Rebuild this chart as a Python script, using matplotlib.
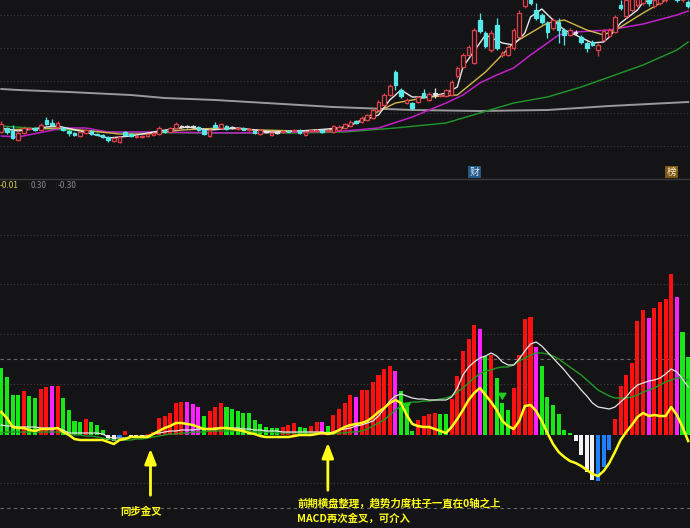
import matplotlib.pyplot as plt
from matplotlib.lines import Line2D
from matplotlib.patches import Rectangle

BG = "#141416"

# ---- upper panel: daily candles (price level, arbitrary units) ----
opens = [46, 50, 47, 38, 45, 49, 50, 48, 58, 55, 51, 50, 47, 45, 42, 45, 47, 44, 43, 41,
         37, 36, 46, 44, 41, 41, 42, 43, 44, 48, 46, 50, 51, 51, 51, 51, 48, 42, 53, 50,
         52, 50, 49, 50, 48, 47, 44, 46, 43, 45, 46, 47, 47, 48, 43, 47, 47, 48, 47, 46,
         48, 50, 52, 57, 56, 58, 60, 68, 73, 83, 106, 88, 75, 75, 76, 85, 78, 84, 82, 82,
         83, 102, 111, 123, 115, 158, 145, 128, 153, 123, 123, 130, 141, 172, 180, 168, 163, 155, 150, 156,
         148, 143, 145, 141, 135, 136, 128, 138, 142, 146, 173, 162, 168, 173, 175, 178, 172, 175, 178, 181,
         183, 178, 176]
closes = [54, 46, 40, 45, 50, 50, 48, 53, 54, 53, 55, 48, 45, 43, 46, 48, 44, 43.5, 41, 38,
          40, 41, 43, 42, 42, 42, 44, 45, 50, 46, 50, 54, 51, 51, 51, 48, 44, 48, 51, 54,
          49, 50, 50, 48.5, 49, 45, 48, 46, 45, 45, 47, 46.5, 48, 45, 46, 48, 48, 46, 48, 52,
          51, 54, 56, 55, 60, 63, 68, 76, 83, 92, 93, 82, 78, 70, 81, 81, 84, 84, 83, 88,
          96, 110, 123, 131, 148, 147, 132, 145, 130, 125, 131, 148, 165, 180, 175, 160, 156, 146, 158, 148,
          143, 148, 145, 136, 130, 133, 133, 147, 148, 161, 170, 178, 180, 183, 183, 175, 178, 181, 184, 186,
          178, 183, 172]
highs = [57, 51, 53, 47, 52, 51, 51, 55, 61, 59, 57, 51, 48, 46, 47, 49, 48, 45, 44, 42,
         41, 42, 47, 45, 43, 43, 45, 46, 52, 49, 51, 56, 53, 53, 53, 52, 49, 49, 56, 55,
         53, 52, 51, 51, 50, 48, 49, 47, 46, 46, 48, 48, 49, 49, 47, 49, 49, 49, 49, 53,
         53, 55, 58, 58, 62, 64, 70, 78, 85, 94, 108, 90, 80, 76, 82, 89, 86, 90, 84, 89,
         98, 112, 125, 133, 150, 165, 147, 148, 160, 127, 133, 150, 168, 184, 182, 175, 165, 157, 160, 160,
         150, 150, 148, 143, 137, 138, 135, 149, 150, 163, 178, 182, 186, 188, 186, 180, 182, 184, 188, 190,
         186, 187, 178]
lows = [45, 44, 39, 37, 44, 48, 47, 47, 53, 52, 50, 47, 42, 42, 41, 44, 43, 43, 40, 36,
        36, 35, 42, 41, 40, 40, 41, 42, 43, 45, 45, 49, 50, 50, 50, 47, 43, 41, 50, 49,
        48, 49, 48, 48, 47, 44, 43, 45, 42, 44, 45, 46, 46, 44, 42, 46, 46, 45, 46, 45,
        47, 49, 51, 54, 55, 57, 59, 67, 72, 82, 88, 80, 74, 68, 75, 80, 77, 80, 81, 81,
        82, 100, 110, 122, 114, 145, 130, 126, 128, 121, 122, 128, 140, 170, 173, 158, 154, 140, 148, 135,
        133, 142, 143, 134, 126, 132, 122, 137, 141, 145, 168, 160, 166, 171, 173, 172, 170, 173, 176, 179,
        176, 176, 170]

# moving averages read at a few days each (day index, level)
ma5_days = [0, 3, 8, 10, 14, 19, 23, 28, 33, 37, 42, 48, 53, 58, 61, 67, 69, 71, 73, 76, 79, 81,
            82, 85, 86, 89, 91, 93, 94, 96, 98, 100, 102, 105, 107, 108, 110, 113, 114, 117, 122]
ma5_vals = [50, 47, 51, 52, 47, 40, 42, 47, 51, 48, 50, 46, 47, 49, 51, 63, 78, 88, 81, 81, 85, 91,
            111, 135, 143, 135, 133, 145, 161, 169, 158, 148, 143, 135, 136, 141, 155, 168, 176, 180, 181]
ma10_days = [0, 5, 10, 16, 21, 26, 32, 39, 46, 53, 58, 61, 70, 76, 81, 86, 91, 97, 100, 104, 107,
             110, 114, 118, 122]
ma10_vals = [48, 49, 50, 47, 44, 44, 48, 50, 48, 47, 48, 50, 75, 81, 83, 106, 135, 155, 158, 148, 143,
             151, 165, 178, 186]
ma30_days = [0, 3, 11, 15, 19, 26, 41, 53, 61, 67, 73, 76, 79, 82, 85, 88, 91, 94, 97, 99, 102, 108,
             114, 120, 122]
ma30_vals = [42, 41, 50, 50, 46, 46, 45, 46, 47, 50, 61, 68, 75, 83, 95, 103, 110, 123, 135, 143, 146,
             148, 154, 163, 167]
ma60_days = [0, 5, 18, 35, 53, 61, 70, 79, 85, 91, 97, 103, 108, 114, 120, 122]
ma60_vals = [52, 50, 46, 45, 45, 46, 50, 55, 65, 75, 81, 91, 101, 113, 128, 136]
ma250_days = [0, 3, 12, 23, 29, 38, 47, 59, 73, 85, 97, 108, 122]
ma250_vals = [89, 88, 86, 83, 80, 78, 75, 71, 68, 67, 68, 72, 76]

# ---- lower panel: trend-strength bars and lines ----
hist = [67, 58, 40, 40, 44, 39, 37, 46, 48, 49,
        49, 37, 25, 14, 13, 16, 13, 10, 5, -5,
        -6, -2, 4, -1, -3, -3, 1, 3, 17, 19,
        22, 32, 33, 33, 31, 28, 19, 24, 28, 32,
        28, 26, 24, 22, 22, 15, 11, 8, 7, 7,
        8, 10, 12, 8, 7, 9, 13, 13, 9, 20,
        26, 32, 40, 38, 45, 45, 53, 60, 66, 69,
        64, 44, 28, 4, 15, 19, 21, 22, 21, 21,
        36, 59, 84, 96, 110, 106, 79, 80, 57, 32,
        25, 47, 80, 116, 118, 88, 69, 38, 30, 21,
        5, 2, -6, -20, -37, -45, -46, -32, -15, 16,
        49, 60, 72, 114, 125, 117, 127, 133, 136, 161,
        138, 103, 78]
hist_kind = list("ggggr" "ggrr" "mr" "ggggr" "ggg" "wwbr" "www" "rrrrrrr" "mmm" "grrr"
                 "gggggggggg" "rrrgg" "rrmg" "rrrrm" "rrrrrrm" "ggg" "rrrrgg" "rrrrrmgr"
                 "ggg" "rrrrm" "gggggg" "wwwwbbb" "rrrrrrm" "rrrrmgg")
trend = [23, 17, 8, 7, 7, 5, 4, 6, 6, 6,
         7, 3, 0, -4, -5, -5, -5, -5, -5, -7,
         -9, -5, -4, -2, -2, -2, -2, 1, 4, 7,
         9, 12, 12, 11, 10, 8, 6, 6, 6, 7,
         7, 6, 5, 4, 2, 1, -1, -2, -2, -2,
         -2, -2, -1, 0, 0, 0, 1, 2, 1, 2,
         5, 8, 10, 11, 12, 14, 18, 23, 27, 32,
         35, 32, 20, 11, 9, 8, 8, 6, 4, 2,
         8, 16, 25, 35, 42, 47, 40, 33, 25, 14,
         9, 6, 14, 29, 30, 24, 14, 2, -9, -17,
         -22, -26, -28, -31, -35, -39, -41, -36, -28, -17,
         -5, 3, 10, 18, 22, 19, 20, 19, 19, 28,
         20, 8, -6]
dif = [10, 9, 9, 8, 8, 8, 8, 7, 7, 7,
       7, 5, 2, 2, 2, 2, 2, 2, 1, -2,
       -3, -3, -3, -2, -2, -1, -1, 1, 2, 3,
       4, 4, 5, 5, 5, 6, 6, 6, 7, 7,
       7, 7, 7, 6, 6, 5, 5, 4, 4, 4,
       3, 3, 3, 3, 3, 3, 3, 3, 2, 3,
       5, 6, 7, 9, 10, 12, 14, 19, 26, 34,
       39, 41, 39, 37, 36, 36, 35, 35, 35, 35,
       38, 47, 60, 68, 73, 77, 79, 82, 79, 73,
       70, 70, 76, 84, 91, 93, 89, 83, 77, 71,
       65, 58, 52, 45, 39, 32, 28, 27, 26, 28,
       33, 38, 45, 50, 52, 54, 55, 57, 61, 66,
       63, 56, 48]
dea = [2, 3, 3, 3, 3, 3, 3, 3, 3, 3,
       3, 2, 1, 0, 0, -1, -1, -2, -3, -4,
       -5, -5, -5, -5, -4, -4, -3, -2, -1, 0,
       1, 1, 2, 2, 3, 3, 3, 4, 4, 4,
       4, 4, 4, 4, 4, 3, 3, 3, 3, 2,
       2, 2, 2, 2, 2, 2, 2, 2, 1, 1,
       2, 2, 3, 3, 4, 6, 9, 12, 15, 20,
       25, 29, 32, 33, 33, 34, 34, 35, 36, 37,
       39, 43, 47, 52, 57, 61, 64, 65, 67, 68,
       68, 70, 74, 77, 80, 82, 82, 81, 79, 76,
       72, 68, 64, 60, 55, 50, 45, 42, 39, 37,
       37, 37, 38, 40, 43, 45, 47, 50, 53, 55,
       57, 57, 55]

KIND_COLORS = {"r": "#ff1010", "m": "#ff20ff", "g": "#18e818", "w": "#f2f2f2", "b": "#1e80ff"}
YELLOW = "#ffff1a"

plt.rcParams["font.family"] = ["Noto Sans CJK SC", "DejaVu Sans"]

fig = plt.figure(figsize=(6.9, 5.28), dpi=100, facecolor=BG)
ax_top = fig.add_axes([0, 350 / 528, 1, 178 / 528], facecolor=BG)
ax_bot = fig.add_axes([0, 0, 1, 348 / 528], facecolor=BG)
days = range(len(hist))
for ax in (ax_top, ax_bot):
    ax.set_xlim(-0.23, 122.33)
    ax.axis("off")
ax_top.set_ylim(0, 178)
ax_bot.set_ylim(-93, 255)

# --- upper panel ---
for lvl in (163, 130, 97, 65, 32):
    ax_top.axhline(lvl, color="#3c3c3c", lw=0.8, ls=(0, (1, 2)))
ax_top.plot(ma250_days, ma250_vals, color="#9a9a9a", lw=1.4)
ax_top.plot(ma60_days, ma60_vals, color="#1f9a2a", lw=1)
ax_top.plot(ma30_days, ma30_vals, color="#c020c8", lw=1.1)
ax_top.plot(ma10_days, ma10_vals, color="#d2b84a", lw=1)
ax_top.plot(ma5_days, ma5_vals, color="#e8e8e8", lw=1)
for d, o, c, h, l in zip(days, opens, closes, highs, lows):
    if c > o:
        col, face = "#e0404c", BG
    elif c < o:
        col, face = "#55e8e8", "#55e8e8"
    else:
        col, face = "#e0e0e0", "#e0e0e0"
    ax_top.vlines(d, l, h, color=col, lw=0.9, zorder=3)
    ax_top.add_patch(Rectangle((d - 0.32, min(o, c)), 0.64, max(abs(c - o), 0.6),
                               facecolor=face, edgecolor=col, lw=0.9, zorder=4))
ax_top.text(84, 6, "财", color="#d8e8ff", fontsize=7, ha="center", va="center",
            bbox=dict(boxstyle="square,pad=0.15", fc="#245a88", ec="none"))
ax_top.text(119, 6, "榜", color="#ffeec8", fontsize=7, ha="center", va="center",
            bbox=dict(boxstyle="square,pad=0.15", fc="#7a5818", ec="none"))

fig.add_artist(Line2D([0, 1], [349 / 528, 349 / 528], color="#3a3a3a", lw=1))

# --- lower panel ---
for lvl in (200, 151, 101, 51, -48):
    ax_bot.axhline(lvl, color="#3e3e3e", lw=0.8, ls=(0, (1, 2)))
for lvl in (76, -73):
    ax_bot.axhline(lvl, color="#6a6a6a", lw=0.8, ls=(0, (3, 3)))

ax_bot.bar(days, hist, width=0.72, color=[KIND_COLORS[k] for k in hist_kind], zorder=2)
ax_bot.plot(days, dea, color="#1f9a1f", lw=1, zorder=3)
ax_bot.plot(days, dif, color="#e6e6e6", lw=0.9, zorder=3)
ax_bot.plot(days, trend, color=YELLOW, lw=1.8, zorder=4)

for d, tip, tail in ((72, 22, 32), (89, 32, 42)):
    ax_bot.annotate("", xy=(d, tip), xytext=(d, tail),
                    arrowprops=dict(arrowstyle="-|>,head_width=0.25,head_length=0.4",
                                    color="#20d020", lw=1), zorder=5)

arrow_kw = dict(arrowstyle="-|>,head_width=0.35,head_length=0.9", color=YELLOW, lw=2)
ax_bot.annotate("", xy=(26.5, -11), xytext=(26.5, -63), arrowprops=arrow_kw, zorder=6)
ax_bot.annotate("", xy=(58, -5), xytext=(58, -58), arrowprops=arrow_kw, zorder=6)
ax_bot.text(24.8, -77, "同步金叉", color=YELLOW, fontsize=7.5, fontweight="bold",
            ha="center", va="center")
ax_bot.text(52.6, -68, "前期横盘整理，趋势力度柱子一直在0轴之上", color=YELLOW,
            fontsize=7.5, fontweight="bold", ha="left", va="center")
ax_bot.text(52.6, -84, "MACD再次金叉，可介入", color=YELLOW,
            fontsize=7.5, fontweight="bold", ha="left", va="center")

# header values of the indicator
fig.text(0.0, 1 - 186 / 528, "-0.01", color="#d8d040", fontsize=6, va="center")
fig.text(27 / 690, 1 - 186 / 528, ":", color="#555555", fontsize=6, va="center")
fig.text(31 / 690, 1 - 186 / 528, "0.30", color="#8a8a8a", fontsize=6, va="center")
fig.text(54 / 690, 1 - 186 / 528, ":", color="#555555", fontsize=6, va="center")
fig.text(58 / 690, 1 - 186 / 528, "-0.30", color="#8a8a8a", fontsize=6, va="center")

fig.savefig("out.png", dpi=100, facecolor=BG)
